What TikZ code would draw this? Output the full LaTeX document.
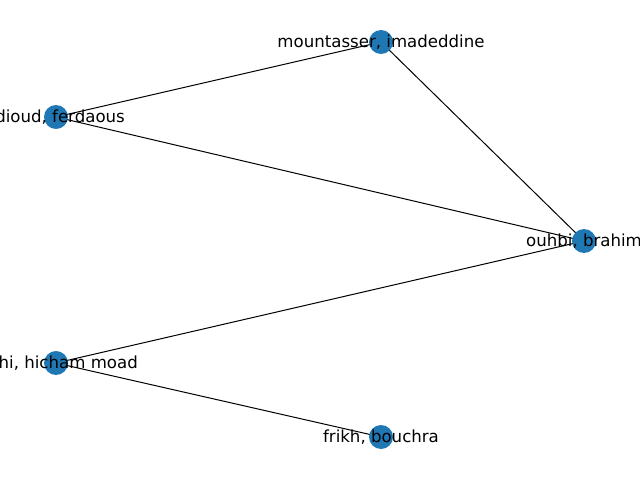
\documentclass[tikz,border=0pt]{standalone}
\usepackage{fontspec}
\setmainfont{DejaVu Sans}
\definecolor{nxblue}{HTML}{1F77B4}
\begin{document}
\begin{tikzpicture}[x=1pt,y=1pt,
  vertex/.style={circle,fill=nxblue,draw=none,minimum size=24pt,inner sep=0pt},
  lbl/.style={inner sep=0pt,font=\fontsize{16.6}{19}\selectfont},
  edge/.style={draw=black,line width=1pt}]
\useasboundingbox (0,0) rectangle (640,480);
\clip (0,0) rectangle (640,480);
\coordinate (m) at (381,438);
\coordinate (d) at (56,363);
\coordinate (o) at (584,239);
\coordinate (h) at (56,117);
\coordinate (f) at (381,43);
\draw[edge] (m) -- (d);
\draw[edge] (m) -- (o);
\draw[edge] (d) -- (o);
\draw[edge] (o) -- (h);
\draw[edge] (h) -- (f);
\node[vertex] (vm) at (m) {};
\node[vertex] (vd) at (d) {};
\node[vertex] (vo) at (o) {};
\node[vertex] (vh) at (h) {};
\node[vertex] (vf) at (f) {};
\node[lbl] (lm) at (m) {mountasser, imadeddine};
\node[lbl,anchor=east] (ld) at (125,363) {dioud, ferdaous};
\node[lbl] (lo) at (o) {ouhbi, brahim};
\node[lbl,anchor=east] (lh) at (138,117) {hi, hicham moad};
\node[lbl] (lf) at (f) {frikh, bouchra};
\end{tikzpicture}
\end{document}
